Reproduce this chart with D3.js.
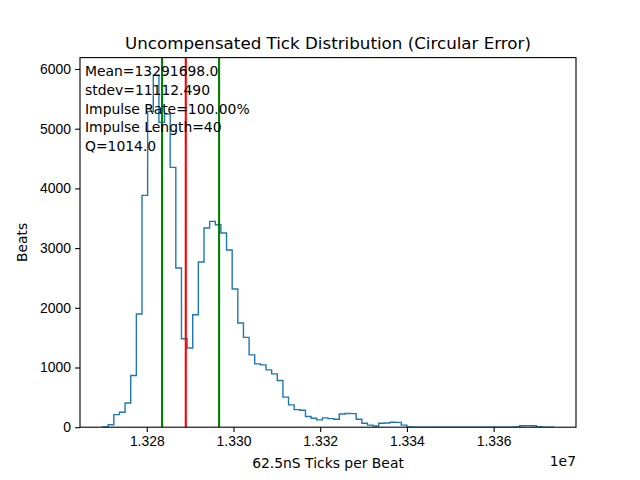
<!DOCTYPE html>
<html lang="en">
<head>
  <meta charset="UTF-8" />
  <title>Uncompensated Tick Distribution</title>
  <script src="https://d3js.org/d3.v7.min.js"></script>
  <style>
    body { margin: 0; background: #fff; }
    svg { display: block; font-family: "DejaVu Sans", sans-serif; }
    .tick text { font-size: 13.9px; fill: #000; }
    .tick line { stroke: #000; stroke-width: 1.1px; }
    .domain { display: none; }
  </style>
</head>
<body>
  <div id="chart"></div>

  <script>
    // histogram: 80 bins starting at binStart, each binWidth ticks wide
    const binStart = 13269800;
    const binWidth = 1300;
    const counts = [
      3, 40, 210, 250, 405, 865, 1895, 3883, 5290, 5896,
      5106, 5246, 4352, 2667, 1482, 1327, 1884, 2767, 3337, 3447,
      3392, 3253, 2968, 2315, 1745, 1504, 1211, 1060, 1044, 960,
      893, 781, 503, 374, 295, 285, 178, 150, 122, 156,
      144, 134, 220, 230, 228, 134, 67, 34, 20, 67,
      70, 84, 80, 34, 4, 2, 1, 2, 1, 0,
      1, 0, 0, 1, 0, 0, 1, 0, 0, 0,
      1, 0, 2, 4, 25, 26, 24, 3, 0, 2
    ];
    const redLines = [13289000];
    const greenLines = [13283530, 13296680];
    const xTicks = [13280000, 13300000, 13320000, 13340000, 13360000];
    const yTicks = [0, 1000, 2000, 3000, 4000, 5000, 6000];
    const statLines = [
      'Mean=13291698.0',
      'stdev=11112.490',
      'Impulse Rate=100.00%',
      'Impulse Length=40',
      'Q=1014.0'
    ];

    const W = 640, H = 480;
    const m = { left: 80, right: 576, top: 57.6, bottom: 427.2 };

    const svg = d3.select('#chart').append('svg')
      .attr('width', W).attr('height', H);

    const binEnd = binStart + binWidth * counts.length;
    const pad = (binEnd - binStart) * 0.05;
    const x = d3.scaleLinear().domain([binStart - pad, binEnd + pad]).range([m.left, m.right]);
    const y = d3.scaleLinear().domain([0, d3.max(counts) * 1.05]).range([m.bottom, m.top]);

    // step outline like histtype='step'
    const pts = [[binStart, 0]];
    counts.forEach((c, i) => {
      pts.push([binStart + i * binWidth, c]);
      pts.push([binStart + (i + 1) * binWidth, c]);
    });
    pts.push([binEnd, 0]);

    svg.append('clipPath').attr('id', 'plot-clip')
      .append('rect')
      .attr('x', m.left).attr('y', m.top)
      .attr('width', m.right - m.left).attr('height', m.bottom - m.top);

    const plot = svg.append('g').attr('clip-path', 'url(#plot-clip)');

    plot.append('path')
      .datum(pts)
      .attr('fill', 'none')
      .attr('stroke', '#1f77b4')
      .attr('stroke-width', 1.4)
      .attr('stroke-linejoin', 'miter')
      .attr('d', d3.line().x(d => x(d[0])).y(d => y(d[1])));

    plot.selectAll('line.green')
      .data(greenLines)
      .join('line')
      .attr('class', 'green')
      .attr('x1', d => x(d)).attr('x2', d => x(d))
      .attr('y1', m.top).attr('y2', m.bottom)
      .attr('stroke', '#008000')
      .attr('stroke-width', 2.1);

    plot.selectAll('line.red')
      .data(redLines)
      .join('line')
      .attr('class', 'red')
      .attr('x1', d => x(d)).attr('x2', d => x(d))
      .attr('y1', m.top).attr('y2', m.bottom)
      .attr('stroke', '#ff0000')
      .attr('stroke-width', 2.1);

    // axes
    svg.append('g')
      .attr('transform', `translate(0,${m.bottom})`)
      .call(d3.axisBottom(x).tickValues(xTicks).tickSize(4.9).tickPadding(4.2)
        .tickFormat(d => (d / 1e7).toFixed(3)));

    svg.append('g')
      .attr('transform', `translate(${m.left},0)`)
      .call(d3.axisLeft(y).tickValues(yTicks).tickSize(4.9).tickPadding(4.2)
        .tickFormat(d3.format('d')));

    // frame
    svg.append('rect')
      .attr('x', m.left).attr('y', m.top)
      .attr('width', m.right - m.left).attr('height', m.bottom - m.top)
      .attr('fill', 'none').attr('stroke', '#000').attr('stroke-width', 1.1);

    svg.append('g')
      .selectAll('text')
      .data(statLines)
      .join('text')
      .attr('x', m.left + 5)
      .attr('y', (d, i) => 76 + i * 18.75)
      .attr('font-size', '13.9px')
      .text(d => d);

    svg.append('text')
      .attr('x', (m.left + m.right) / 2).attr('y', 49.3)
      .attr('text-anchor', 'middle')
      .attr('font-size', '16.7px')
      .text('Uncompensated Tick Distribution (Circular Error)');

    svg.append('text')
      .attr('x', (m.left + m.right) / 2).attr('y', 468)
      .attr('text-anchor', 'middle')
      .attr('font-size', '13.9px')
      .text('62.5nS Ticks per Beat');

    svg.append('text')
      .attr('x', m.right).attr('y', 466)
      .attr('text-anchor', 'end')
      .attr('font-size', '13.9px')
      .text('1e7');

    svg.append('text')
      .attr('transform', `translate(27,${(m.top + m.bottom) / 2}) rotate(-90)`)
      .attr('text-anchor', 'middle')
      .attr('font-size', '13.9px')
      .text('Beats');
  </script>
</body>
</html>
